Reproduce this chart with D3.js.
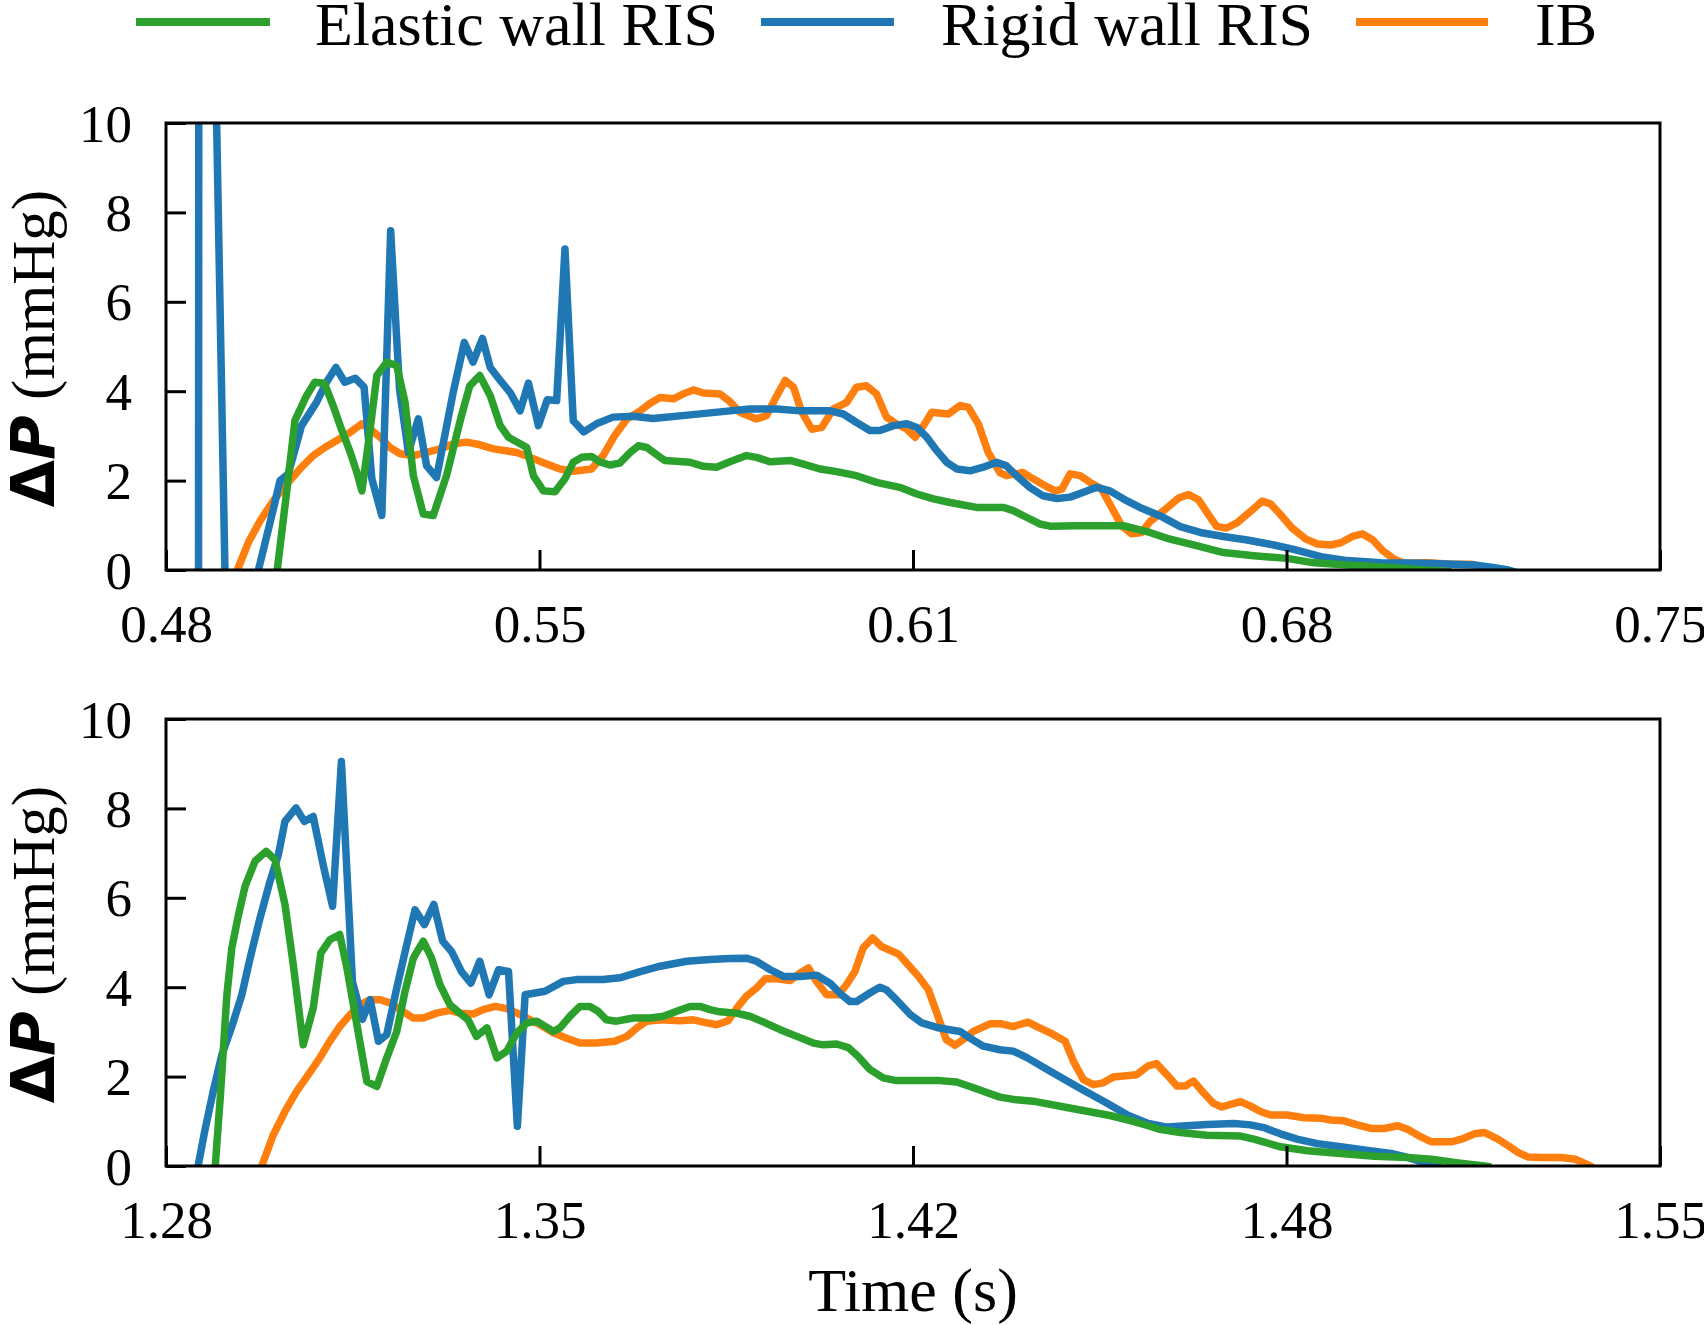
<!DOCTYPE html>
<html>
<head>
<meta charset="utf-8">
<script src="https://cdn.jsdelivr.net/npm/d3@7"></script>
<style>
  html, body { margin: 0; padding: 0; background: #fff; }
  svg { display: block; }
  .tick text { font-family: "Liberation Serif", "Times New Roman", serif; }
</style>
</head>
<body>
<svg id="chart" width="1704" height="1325"></svg>
<script>
// ---------------- data ----------------
const seriesNames = ["Elastic wall RIS", "Rigid wall RIS", "IB"];
const seriesColors = ["#2ca02c", "#1f77b4", "#ff7f0e"];

const xTickValsTop = [0.48, 0.5475, 0.615, 0.6825, 0.75];
const xTickLabelsTop = ["0.48", "0.55", "0.61", "0.68", "0.75"];
const xTickValsBot = [1.28, 1.3475, 1.415, 1.4825, 1.55];
const xTickLabelsBot = ["1.28", "1.35", "1.42", "1.48", "1.55"];
const yTicks = [0, 2, 4, 6, 8, 10];
const yLabels = ["0", "2", "4", "6", "8", "10"];

const topElastic = [[0.4990,-1],[0.5001,0],[0.5018,1.74],[0.5033,3.34],[0.5054,3.90],[0.5069,4.20],[0.5086,4.18],[0.5102,3.68],[0.5117,3.15],[0.5133,2.63],[0.5145,2.18],[0.5154,1.77],[0.5166,2.86],[0.5181,4.35],[0.5199,4.65],[0.5217,4.57],[0.5232,3.75],[0.5247,2.11],[0.5265,1.25],[0.5283,1.22],[0.5307,2.11],[0.5322,2.86],[0.5334,3.45],[0.5349,4.12],[0.5367,4.35],[0.5386,3.90],[0.5404,3.23],[0.5419,2.97],[0.5452,2.74],[0.5464,2.11],[0.5482,1.77],[0.5503,1.75],[0.5521,2.04],[0.5536,2.41],[0.5551,2.52],[0.5569,2.54],[0.5584,2.42],[0.5602,2.35],[0.5620,2.39],[0.5639,2.63],[0.5654,2.78],[0.5669,2.74],[0.5693,2.52],[0.5702,2.45],[0.5747,2.41],[0.5771,2.32],[0.5795,2.30],[0.5819,2.42],[0.5849,2.56],[0.5867,2.52],[0.5892,2.42],[0.5928,2.45],[0.5952,2.37],[0.5982,2.26],[0.6012,2.20],[0.6048,2.11],[0.6084,1.96],[0.6126,1.85],[0.6157,1.70],[0.6187,1.59],[0.6217,1.51],[0.6265,1.40],[0.6313,1.40],[0.6331,1.33],[0.6355,1.18],[0.6379,1.03],[0.6398,0.98],[0.6446,0.99],[0.6530,0.99],[0.6578,0.84],[0.6609,0.71],[0.6657,0.56],[0.6711,0.39],[0.6766,0.32],[0.6826,0.26],[0.6875,0.16],[0.6935,0.11],[0.6996,0.07],[0.7062,0.01],[0.7123,-0.04]];

const topRigid = [[0.4850,-20],[0.4858,-20],[0.4860,30],[0.48885,12],[0.49095,-2],[0.4950,-0.9],[0.4967,0],[0.4994,1.36],[0.5006,2.0],[0.5021,2.15],[0.5045,3.23],[0.5072,3.75],[0.5090,4.2],[0.5107,4.53],[0.5123,4.2],[0.5142,4.29],[0.5158,4.09],[0.5172,2.04],[0.5190,1.22],[0.5206,7.59],[0.5222,4.05],[0.5238,2.63],[0.5256,3.38],[0.5271,2.33],[0.5289,2.07],[0.5319,3.97],[0.5339,5.09],[0.5355,4.65],[0.5372,5.18],[0.5386,4.53],[0.5404,4.24],[0.5422,3.97],[0.5440,3.56],[0.5455,4.18],[0.5473,3.23],[0.5489,3.81],[0.5506,3.79],[0.5521,7.18],[0.5536,3.34],[0.5555,3.09],[0.5578,3.27],[0.5608,3.42],[0.5645,3.44],[0.5680,3.39],[0.5747,3.47],[0.5819,3.56],[0.5855,3.60],[0.5904,3.60],[0.5946,3.56],[0.6000,3.56],[0.6024,3.49],[0.6048,3.30],[0.6072,3.12],[0.6090,3.12],[0.6115,3.23],[0.6139,3.27],[0.6157,3.19],[0.6175,2.97],[0.6193,2.67],[0.6211,2.41],[0.6229,2.26],[0.6253,2.22],[0.6277,2.30],[0.6301,2.41],[0.6319,2.33],[0.6337,2.11],[0.6361,1.85],[0.6385,1.66],[0.6410,1.60],[0.6434,1.63],[0.6458,1.74],[0.6482,1.85],[0.6506,1.77],[0.6536,1.55],[0.6560,1.40],[0.6597,1.21],[0.6633,0.97],[0.6669,0.84],[0.6711,0.75],[0.6754,0.67],[0.6802,0.56],[0.6838,0.46],[0.6887,0.30],[0.6935,0.21],[0.6996,0.16],[0.7075,0.15],[0.7165,0.11],[0.7201,0.05],[0.7226,0.0],[0.7240,-0.05]];

const topIB = [[0.4915,-0.7],[0.4929,0],[0.4949,0.62],[0.4970,1.10],[0.4994,1.55],[0.5018,1.92],[0.5042,2.26],[0.5066,2.56],[0.5087,2.74],[0.5108,2.89],[0.5133,3.08],[0.5154,3.27],[0.5169,3.15],[0.5187,2.97],[0.5205,2.74],[0.5223,2.60],[0.5247,2.56],[0.5271,2.63],[0.5295,2.71],[0.5319,2.82],[0.5343,2.86],[0.5361,2.82],[0.5392,2.71],[0.5434,2.63],[0.5458,2.52],[0.5488,2.37],[0.5512,2.26],[0.5536,2.21],[0.5569,2.26],[0.5590,2.56],[0.5611,3.01],[0.5633,3.38],[0.5657,3.56],[0.5675,3.73],[0.5693,3.86],[0.5717,3.83],[0.5735,3.94],[0.5753,4.03],[0.5771,3.96],[0.5801,3.94],[0.5819,3.77],[0.5837,3.53],[0.5867,3.38],[0.5885,3.45],[0.5901,3.83],[0.5919,4.24],[0.5934,4.09],[0.5949,3.53],[0.5967,3.15],[0.5985,3.19],[0.6006,3.60],[0.6030,3.75],[0.6048,4.09],[0.6066,4.12],[0.6084,3.94],[0.6102,3.42],[0.6120,3.27],[0.6139,3.15],[0.6154,2.97],[0.6169,3.23],[0.6184,3.53],[0.6214,3.49],[0.6235,3.68],[0.6250,3.64],[0.6268,3.27],[0.6286,2.63],[0.6307,2.18],[0.6319,2.11],[0.6349,2.18],[0.6367,2.04],[0.6388,1.89],[0.6407,1.77],[0.6419,1.81],[0.6434,2.15],[0.6452,2.11],[0.6470,1.96],[0.6491,1.81],[0.6509,1.40],[0.6527,0.99],[0.6545,0.81],[0.6563,0.84],[0.6578,1.08],[0.6609,1.39],[0.6630,1.61],[0.6648,1.69],[0.6666,1.57],[0.6684,1.24],[0.6699,0.97],[0.6717,0.94],[0.6736,1.06],[0.6760,1.31],[0.6781,1.54],[0.6796,1.48],[0.6814,1.24],[0.6835,0.94],[0.6860,0.69],[0.6881,0.58],[0.6905,0.56],[0.6923,0.61],[0.6944,0.75],[0.6962,0.81],[0.6981,0.67],[0.6999,0.43],[0.7020,0.24],[0.7038,0.15],[0.7081,0.16],[0.7123,0.13],[0.7159,0.13],[0.7177,0.07],[0.7190,0.0],[0.7200,-0.05]];

const botElastic = [[1.2884,-0.6],[1.2889,0],[1.2898,1.52],[1.2910,3.83],[1.2919,4.88],[1.2931,5.62],[1.2943,6.26],[1.2961,6.82],[1.2981,7.04],[1.2997,6.85],[1.3015,5.85],[1.3030,4.50],[1.3048,2.71],[1.3066,3.53],[1.3080,4.77],[1.3096,5.06],[1.3114,5.18],[1.3127,4.43],[1.3145,3.16],[1.3163,1.89],[1.3181,1.78],[1.3199,2.42],[1.3217,3.01],[1.3232,3.91],[1.3247,4.65],[1.3265,5.03],[1.3280,4.65],[1.3295,4.06],[1.3313,3.61],[1.3331,3.42],[1.3346,3.27],[1.3361,2.90],[1.3380,3.09],[1.3398,2.42],[1.3416,2.57],[1.3434,2.98],[1.3452,3.20],[1.3470,3.24],[1.3500,3.01],[1.3512,3.09],[1.3530,3.35],[1.3548,3.57],[1.3566,3.57],[1.3581,3.46],[1.3596,3.27],[1.3614,3.24],[1.3645,3.31],[1.3675,3.31],[1.3699,3.35],[1.3723,3.46],[1.3747,3.57],[1.3765,3.57],[1.3783,3.50],[1.3801,3.45],[1.3831,3.42],[1.3855,3.35],[1.3880,3.22],[1.3910,3.05],[1.3940,2.90],[1.3970,2.75],[1.3988,2.71],[1.4012,2.73],[1.4033,2.65],[1.4051,2.45],[1.4072,2.16],[1.4096,1.97],[1.4120,1.91],[1.4157,1.91],[1.4199,1.91],[1.4229,1.88],[1.4253,1.78],[1.4277,1.67],[1.4307,1.54],[1.4337,1.48],[1.4367,1.45],[1.4428,1.31],[1.4506,1.13],[1.4548,1.00],[1.4575,0.90],[1.4596,0.82],[1.4633,0.75],[1.4681,0.69],[1.4742,0.67],[1.4766,0.60],[1.4814,0.43],[1.4863,0.34],[1.4923,0.28],[1.4984,0.22],[1.5044,0.19],[1.5087,0.15],[1.5135,0.07],[1.5183,0],[1.5195,-0.02]];

const botRigid = [[1.2850,-0.6],[1.2858,0],[1.2870,0.78],[1.2886,1.71],[1.2901,2.49],[1.2919,3.12],[1.2937,3.83],[1.2952,4.65],[1.2970,5.55],[1.2988,6.37],[1.3003,6.96],[1.3015,7.71],[1.3035,8.01],[1.3050,7.71],[1.3066,7.82],[1.3084,6.74],[1.3101,5.81],[1.3117,9.05],[1.3137,4.12],[1.3155,3.28],[1.3169,3.72],[1.3184,2.79],[1.3199,2.94],[1.3217,3.98],[1.3235,4.95],[1.3250,5.73],[1.3267,5.40],[1.3284,5.85],[1.3300,5.03],[1.3316,4.80],[1.3334,4.35],[1.3351,4.09],[1.3367,4.58],[1.3384,3.83],[1.3401,4.39],[1.3419,4.35],[1.3435,0.89],[1.3449,3.83],[1.3467,3.87],[1.3485,3.91],[1.3518,4.13],[1.3542,4.17],[1.3590,4.17],[1.3620,4.21],[1.3657,4.35],[1.3693,4.47],[1.3741,4.58],[1.3783,4.62],[1.3819,4.64],[1.3849,4.65],[1.3867,4.58],[1.3892,4.39],[1.3916,4.24],[1.3946,4.24],[1.3976,4.27],[1.4000,4.09],[1.4021,3.83],[1.4036,3.68],[1.4048,3.68],[1.4072,3.87],[1.4090,4.00],[1.4102,3.94],[1.4120,3.72],[1.4145,3.39],[1.4166,3.20],[1.4193,3.10],[1.4235,3.01],[1.4253,2.86],[1.4277,2.68],[1.4307,2.60],[1.4331,2.57],[1.4355,2.43],[1.4398,2.12],[1.4446,1.78],[1.4500,1.41],[1.4536,1.15],[1.4575,0.95],[1.4609,0.87],[1.4645,0.90],[1.4681,0.93],[1.4730,0.95],[1.4760,0.92],[1.4784,0.86],[1.4814,0.72],[1.4844,0.60],[1.4881,0.50],[1.4923,0.43],[1.4972,0.35],[1.5014,0.28],[1.5044,0.19],[1.5075,0.07],[1.5093,0],[1.5105,-0.05]];

const botIB = [[1.2960,-0.6],[1.2973,0],[1.2994,0.70],[1.3015,1.22],[1.3036,1.67],[1.3057,2.04],[1.3078,2.42],[1.3096,2.79],[1.3114,3.12],[1.3133,3.39],[1.3151,3.61],[1.3169,3.72],[1.3187,3.72],[1.3205,3.65],[1.3223,3.50],[1.3247,3.31],[1.3265,3.31],[1.3289,3.42],[1.3313,3.48],[1.3331,3.42],[1.3355,3.40],[1.3373,3.50],[1.3395,3.57],[1.3416,3.52],[1.3440,3.39],[1.3458,3.27],[1.3476,3.16],[1.3500,2.98],[1.3524,2.86],[1.3548,2.75],[1.3578,2.75],[1.3611,2.79],[1.3633,2.90],[1.3651,3.09],[1.3669,3.24],[1.3693,3.27],[1.3729,3.25],[1.3753,3.27],[1.3771,3.22],[1.3795,3.16],[1.3816,3.25],[1.3834,3.57],[1.3849,3.80],[1.3867,3.98],[1.3883,4.19],[1.3904,4.19],[1.3928,4.15],[1.3946,4.32],[1.3961,4.43],[1.3976,4.12],[1.3994,3.83],[1.4015,3.83],[1.4030,4.06],[1.4045,4.35],[1.4060,4.88],[1.4077,5.10],[1.4093,4.91],[1.4124,4.74],[1.4142,4.49],[1.4160,4.24],[1.4178,3.94],[1.4193,3.42],[1.4210,2.83],[1.4226,2.70],[1.4244,2.86],[1.4259,3.01],[1.4289,3.18],[1.4310,3.18],[1.4331,3.12],[1.4358,3.22],[1.4374,3.12],[1.4398,2.98],[1.4425,2.79],[1.4440,2.34],[1.4458,1.93],[1.4476,1.82],[1.4494,1.86],[1.4512,1.99],[1.4554,2.04],[1.4575,2.24],[1.4590,2.29],[1.4609,2.04],[1.4627,1.79],[1.4642,1.79],[1.4657,1.90],[1.4675,1.64],[1.4693,1.40],[1.4708,1.32],[1.4724,1.38],[1.4742,1.44],[1.4760,1.34],[1.4778,1.22],[1.4796,1.14],[1.4826,1.14],[1.4857,1.08],[1.4887,1.07],[1.4905,1.03],[1.4929,1.01],[1.4953,0.92],[1.4978,0.84],[1.5002,0.84],[1.5026,0.90],[1.5044,0.82],[1.5068,0.65],[1.5087,0.54],[1.5123,0.54],[1.5141,0.60],[1.5165,0.72],[1.5183,0.75],[1.5207,0.60],[1.5226,0.45],[1.5244,0.30],[1.5262,0.20],[1.5286,0.19],[1.5322,0.19],[1.5347,0.15],[1.5365,0.05],[1.5374,0],[1.5385,-0.08]];

// ---------------- layout ----------------
const SERIF = '"Liberation Serif", "Times New Roman", serif';
const svg = d3.select("#chart");
const plotLeft = 166, plotRight = 1660;
const panels = [
  { top: 123, bottom: 570, domain: [0.48, 0.75], ticks: xTickValsTop, labels: xTickLabelsTop,
    series: [topIB, topRigid, topElastic], colors: [seriesColors[2], seriesColors[1], seriesColors[0]] },
  { top: 719, bottom: 1166, domain: [1.28, 1.55], ticks: xTickValsBot, labels: xTickLabelsBot,
    series: [botIB, botRigid, botElastic], colors: [seriesColors[2], seriesColors[1], seriesColors[0]] }
];

panels.forEach((p, pi) => {
  const x = d3.scaleLinear().domain(p.domain).range([plotLeft, plotRight]);
  const y = d3.scaleLinear().domain([0, 10]).range([p.bottom, p.top]);
  const g = svg.append("g");

  const clipId = "clip" + pi;
  svg.append("defs").append("clipPath").attr("id", clipId)
    .append("rect").attr("x", plotLeft).attr("y", p.top)
    .attr("width", plotRight - plotLeft).attr("height", p.bottom - p.top);

  const line = d3.line().x(d => x(d[0])).y(d => y(d[1]));
  const lg = g.append("g").attr("clip-path", `url(#${clipId})`);
  p.series.forEach((s, i) => {
    lg.append("path").datum(s).attr("d", line)
      .attr("fill", "none").attr("stroke", p.colors[i])
      .attr("stroke-width", 7.5).attr("stroke-linejoin", "round").attr("stroke-linecap", "butt");
  });

  // x axis
  const xa = g.append("g").attr("transform", `translate(0,${p.bottom})`)
    .call(d3.axisBottom(x).tickValues(p.ticks).tickFormat((d, i) => p.labels[i])
      .tickSizeInner(-20).tickSizeOuter(0).tickPadding(34));
  xa.select(".domain").remove();
  xa.selectAll(".tick line").attr("stroke", "#000").attr("stroke-width", 3);
  xa.selectAll(".tick text").attr("font-family", SERIF).attr("font-size", 53).attr("fill", "#000");

  // y axis
  const ya = g.append("g").attr("transform", `translate(${plotLeft},0)`)
    .call(d3.axisLeft(y).tickValues(yTicks).tickFormat((d, i) => yLabels[i])
      .tickSizeInner(-20).tickSizeOuter(0).tickPadding(34));
  ya.select(".domain").remove();
  ya.selectAll(".tick line").attr("stroke", "#000").attr("stroke-width", 3);
  ya.selectAll(".tick text").attr("font-family", SERIF).attr("font-size", 53).attr("fill", "#000")
    .attr("dy", "0.34em");

  // frame
  g.append("rect").attr("x", plotLeft).attr("y", p.top)
    .attr("width", plotRight - plotLeft).attr("height", p.bottom - p.top)
    .attr("fill", "none").attr("stroke", "#000").attr("stroke-width", 3);

  // y label
  const cy = (p.top + p.bottom) / 2 + 2;
  const yl = g.append("text").attr("transform", `translate(54,${cy}) rotate(-90)`)
    .attr("text-anchor", "middle").attr("font-size", 61).attr("fill", "#000");
  yl.append("tspan").attr("font-family", "DejaVu Sans").attr("font-weight", "bold").text("Δ");
  yl.append("tspan").attr("font-family", "DejaVu Sans").attr("font-weight", "bold")
    .attr("font-style", "italic").text("P");
  yl.append("tspan").attr("font-family", SERIF).text(" (mmHg)");
});

// x label
svg.append("text").attr("x", 913).attr("y", 1311).attr("text-anchor", "middle")
  .attr("font-family", SERIF).attr("font-size", 62).attr("fill", "#000").text("Time (s)");

// legend
const legendItems = [
  { name: seriesNames[0], color: seriesColors[0], x1: 136, x2: 270, tx: 315 },
  { name: seriesNames[1], color: seriesColors[1], x1: 761, x2: 894, tx: 941 },
  { name: seriesNames[2], color: seriesColors[2], x1: 1356, x2: 1488, tx: 1535 }
];
const leg = svg.append("g");
legendItems.forEach(it => {
  leg.append("line").attr("x1", it.x1).attr("x2", it.x2).attr("y1", 22).attr("y2", 22)
    .attr("stroke", it.color).attr("stroke-width", 8);
  leg.append("text").attr("x", it.tx).attr("y", 45).attr("font-family", SERIF)
    .attr("font-size", 62).attr("fill", "#000").text(it.name);
});
</script>
</body>
</html>
